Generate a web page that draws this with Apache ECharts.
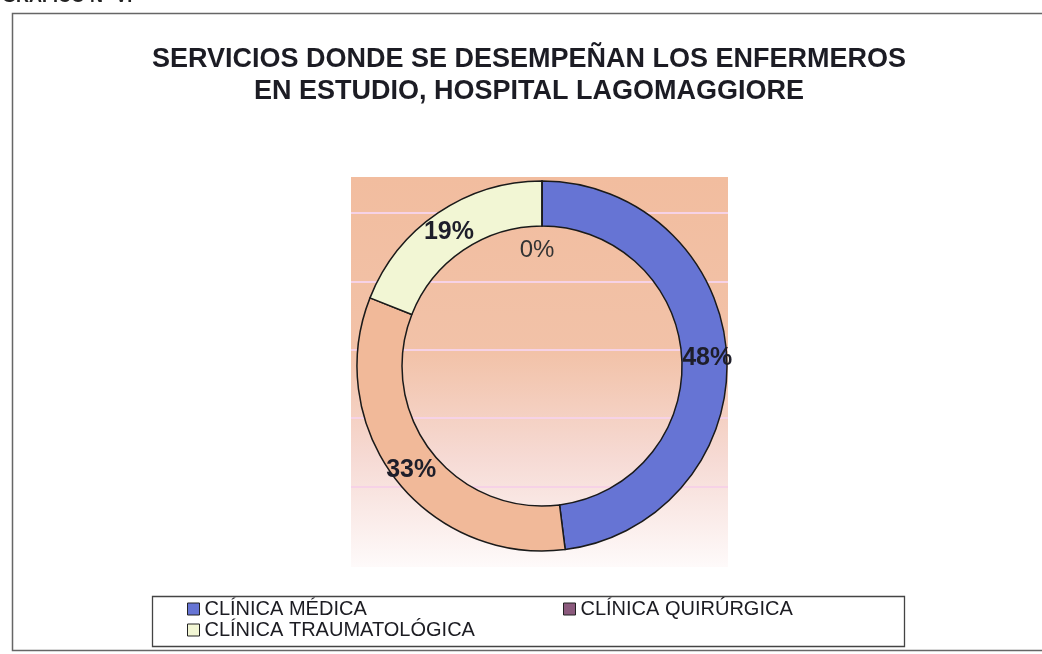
<!DOCTYPE html>
<html>
<head>
<meta charset="utf-8">
<script src="https://cdn.jsdelivr.net/npm/echarts@6/dist/echarts.min.js"></script>
<style>
  html, body { margin: 0; padding: 0; background: #ffffff; }
  #chart { width: 1042px; height: 654px; }
</style>
</head>
<body>
<div id="chart"></div>
<script>
// ---- data ----
const categories = ['CLÍNICA MÉDICA', 'CLÍNICA QUIRÚRGICA', 'CLÍNICA TRAUMATOLÓGICA', 'OTROS'];
const values = [48, 33, 19, 0];            // percentages
const sliceColors = ['#6674d4', '#f1b999', '#f2f6d4', '#8b5a7d'];
const legendColors = ['#6674d4', '#8b5a7d', '#f2f6d4'];
const titleLines = ['SERVICIOS DONDE SE DESEMPEÑAN LOS ENFERMEROS', 'EN ESTUDIO, HOSPITAL LAGOMAGGIORE'];
const headerText = 'GRÁFICO N° VI';

const FONT = '"Liberation Sans", Arial, sans-serif';
const chart = echarts.init(document.getElementById('chart'), null, { renderer: 'canvas' });

const pieData = categories.map((name, i) => {
  const item = { name: name, value: values[i], itemStyle: { color: sliceColors[i] } };
  if (values[i] === 0) {
    item.label = { fontWeight: 'normal', fontSize: 24, color: '#333333' };
  }
  return item;
});

// plot area background stripes (scan look)
const stripes = [213, 282, 350, 418, 487].map(y => ({
  type: 'line', z: -9,
  shape: { x1: 351, y1: y, x2: 728, y2: y },
  style: { stroke: '#f6d2e6', lineWidth: 2 }
}));

function legendAt(name, idx, left, top) {
  return {
    data: [{ name: name, itemStyle: { color: legendColors[idx], borderColor: '#222', borderWidth: 1 } }],
    left: left, top: top, orient: 'horizontal',
    icon: 'rect', itemWidth: 12, itemHeight: 12, itemGap: 5,
    padding: 0,
    selectedMode: false,
    textStyle: { fontFamily: FONT, fontSize: 20, color: '#1c1c22' }
  };
}

chart.setOption({
  backgroundColor: '#ffffff',
  animation: false,
  legend: [
    legendAt(categories[0], 0, 187, 599),
    legendAt(categories[1], 1, 563, 599),
    legendAt(categories[2], 2, 187, 620)
  ],
  graphic: [
    { type: 'text', z: 5, x: 529, y: 44,
      style: { text: titleLines.join('\n'), font: 'bold 27px ' + FONT, fill: '#1c1c24',
               align: 'center', verticalAlign: 'top', lineHeight: 32 } },
    { type: 'text', z: -5, left: 2, top: -12,
      style: { text: headerText, font: 'bold 18px ' + FONT, fill: '#222' } },
    { type: 'rect', z: -10, shape: { x: 12.5, y: 13.5, width: 1040, height: 637 },
      style: { fill: 'none', stroke: '#666', lineWidth: 1.5 } },
    { type: 'rect', z: -10, shape: { x: 351, y: 177, width: 377, height: 390 },
      style: {
        fill: new echarts.graphic.LinearGradient(0, 0, 0, 1, [
          { offset: 0, color: '#f2bd9f' },
          { offset: 0.45, color: '#f2c2a8' },
          { offset: 0.72, color: '#f6dad4' },
          { offset: 1, color: '#fefafa' }
        ])
      } },
    ...stripes,
    { type: 'rect', z: -8, shape: { x: 152.5, y: 596.5, width: 752, height: 50 },
      style: { fill: 'none', stroke: '#444', lineWidth: 1.3 } }
  ],
  series: [{
    type: 'pie',
    center: [542, 366],
    radius: [140, 185],
    startAngle: 90,
    clockwise: true,
    avoidLabelOverlap: false,
    minAngle: 0,
    itemStyle: { borderColor: '#1a1a1a', borderWidth: 1.5 },
    label: {
      show: true,
      position: 'inside',
      formatter: p => p.value + '%',
      fontFamily: FONT,
      fontSize: 25,
      fontWeight: 'bold',
      color: '#1e1e2a'
    },
    labelLayout: params => (values[params.dataIndex] === 0 ? { dx: -5, dy: 50 } : { dy: 3 }),
    labelLine: { show: false },
    emphasis: { disabled: true },
    data: pieData
  }]
});
</script>
</body>
</html>
